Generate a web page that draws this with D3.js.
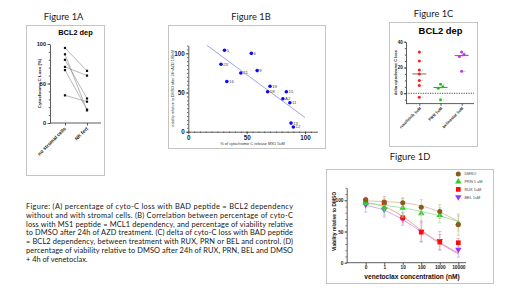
<!DOCTYPE html>
<html><head><meta charset="utf-8">
<script src="https://cdn.jsdelivr.net/npm/d3@7"></script>
<style>body{margin:0;background:#fff}svg{display:block}</style>
</head><body>
<svg id="c" width="520" height="293"></svg>
<script>
// ---------- DATA ----------
// Figure 1A
const catA = ["no stromal cells", "NK fert"];
const noStromal = [95, 87, 80, 71, 67, 35];
const nkFert = [66, 16, 31, 60, 17, 27];
const yTicksA = [0, 50, 100];
// Figure 1B
const labelsB = ["5", "6", "23", "21", "9", "16", "19", "18", "15", "A2", "11", "13", "12"];
const cytoB = [31, 54, 28, 45, 59, 33, 70, 68, 84, 81, 87, 88, 90];
const viabB = [104, 100, 86, 75, 78, 64, 58, 51, 51, 42, 37, 11, 6];
const fitRangeB = [16, 100];
const ticksB = [0, 50, 100];
// Figure 1C
const catC = ["ruxolitinib 1uM", "PRN 1uM", "belinostat 1uM"];
const ruxC = [32, 25, 18, 15, 10, 6, -3];
const prnC = [7, 5, 4, -5];
const belC = [32, 30, 28.5, 17];
const ticksC = [0, 20, 40];
// Figure 1D
const concLabels = ["0", "1", "10", "100", "1000", "10000"];
const seriesNames = ["DMSO", "PRN 1 uM", "RUX 1uM", "BEL 1uM"];
const dmso = [101, 97, 96, 89, 82, 61];
const dmsoErr = [3, 5, 8, 12, 11, 17];
const dmsoFit = [99, 98, 96, 91, 81, 66];
const prn = [96, 89, 88, 79, 76, 63];
const prnErr = [3, 13, 15, 13, 12, 12];
const prnFit = [95, 92, 88, 82, 75, 66];
const rux = [99, 96, 72, 49, 33, 32];
const ruxErr = [4, 10, 8, 15, 12, 7];
const ruxFit = [96, 90, 74, 52, 32, 16];
const bel = [93, 85, 70, 50, 35, 21];
const belErr = [12, 12, 10, 17, 15, 12];
const belFit = [92, 84, 69, 50, 31, 14];
const ticksD = [0, 50, 100];
// Caption
const caption = [
  "Figure: (A) percentage of cyto-C loss with BAD peptide = BCL2 dependency",
  "without and with stromal cells. (B) Correlation between percentage of cyto-C",
  "loss with MS1 peptide = MCL1 dependency, and percentage of viability relative",
  "to DMSO after 24h of AZD treatment. (C) delta of cyto-C loss with BAD peptide",
  "= BCL2 dependency, between treatment with RUX, PRN or BEL and control. (D)",
  "percentage of viability relative to DMSO after 24h of RUX, PRN, BEL and DMSO",
  "+ 4h of venetoclax."
];

// ---------- DRAW ----------
const svg = d3.select("#c");
svg.append("rect").attr("width", 520).attr("height", 293).attr("fill", "#fff");
const AX = "'Liberation Sans', Arial, sans-serif";
const CAL = "Lato, 'Open Sans', sans-serif";
const AXC = "#333";

function box(x0, y0, x1, y1) {
  svg.append("rect").attr("x", x0 + 0.5).attr("y", y0 + 0.5)
    .attr("width", x1 - x0).attr("height", y1 - y0)
    .attr("fill", "none").attr("stroke", "#c4c4c4").attr("stroke-width", 1);
}
function title(t, x, y) {
  svg.append("text").attr("x", x).attr("y", y).attr("text-anchor", "middle")
    .attr("font-family", CAL).attr("font-size", 9.3).attr("fill", "#1a1a1a").text(t);
}
function styleAxis(g, fs) {
  g.selectAll("path,line").attr("stroke", AXC).attr("stroke-width", 0.8);
  g.selectAll("text").attr("font-family", AX).attr("font-weight", "bold")
    .attr("font-size", fs).attr("fill", "#222");
}

// ===== Figure 1A =====
box(26, 25, 104, 175);
title("Figure 1A", 63.5, 20);
svg.append("text").attr("x", 75.5).attr("y", 35.3).attr("text-anchor", "middle")
  .attr("font-family", AX).attr("font-weight", "bold").attr("font-size", 7.4).text("BCL2 dep");
const yA = d3.scaleLinear().domain([0, 100]).range([123, 44]);
const xA = d3.scalePoint().domain(catA).range([50, 102]).padding(0.68);
{
  const ga = svg.append("g").attr("transform", "translate(50,0)")
    .call(d3.axisLeft(yA).tickValues(yTicksA).tickSize(2.5).tickSizeOuter(0).tickPadding(1.5));
  styleAxis(ga, 5.6);
  const gm = svg.append("g").attr("transform", "translate(50,0)")
    .call(d3.axisLeft(yA).tickValues(d3.range(0, 101, 10)).tickSize(1.2).tickFormat(""));
  styleAxis(gm, 5); gm.select("path").remove();
  const gx = svg.append("g").attr("transform", "translate(0,123)")
    .call(d3.axisBottom(xA).tickSize(2.5).tickSizeOuter(0));
  styleAxis(gx, 5);
  gx.select("path").attr("d", "M50,0H101");
  gx.selectAll(".tick text").attr("text-anchor", "end").attr("dy", 0)
    .attr("transform", "translate(1,6) rotate(-45)").attr("y", 0).attr("x", 0);
  svg.append("text").attr("transform", `translate(40.5,${yA(50)}) rotate(-90)`)
    .attr("text-anchor", "middle").attr("font-family", AX).attr("font-weight", "bold")
    .attr("font-size", 4.4).attr("fill", "#222").text("Cytochrome C Loss (%)");
  const pairs = noStromal.map((v, i) => [v, nkFert[i]]);
  svg.append("g").selectAll("line").data(pairs).join("line")
    .attr("x1", xA(catA[0])).attr("x2", xA(catA[1]))
    .attr("y1", d => yA(d[0])).attr("y2", d => yA(d[1]))
    .attr("stroke", "#888").attr("stroke-width", 0.6);
  const pts = [];
  pairs.forEach(d => { pts.push([catA[0], d[0]]); pts.push([catA[1], d[1]]); });
  svg.append("g").selectAll("rect").data(pts).join("rect")
    .attr("x", d => xA(d[0]) - 1.1).attr("y", d => yA(d[1]) - 1.1)
    .attr("width", 2.2).attr("height", 2.2).attr("fill", "#111");
}

// ===== Figure 1B =====
box(168, 25, 325, 148);
title("Figure 1B", 251, 20);
const xB = d3.scaleLinear().domain([0, 110]).range([188.3, 316.7]);
const yB = d3.scaleLinear().domain([0, 110]).range([131.7, 45.5]);
{
  const gy = svg.append("g").attr("transform", "translate(188.3,0)")
    .call(d3.axisLeft(yB).tickValues(ticksB).tickSize(2.5).tickSizeOuter(0).tickPadding(1));
  styleAxis(gy, 6.3);
  const gym = svg.append("g").attr("transform", "translate(188.3,0)")
    .call(d3.axisLeft(yB).tickValues(d3.range(0, 111, 5)).tickSize(1.2).tickFormat(""));
  styleAxis(gym, 5); gym.select("path").remove();
  const gx = svg.append("g").attr("transform", "translate(0,131.7)")
    .call(d3.axisBottom(xB).tickValues(ticksB).tickSize(2.5).tickSizeOuter(0).tickPadding(1));
  styleAxis(gx, 6.3);
  const gxm = svg.append("g").attr("transform", "translate(0,131.7)")
    .call(d3.axisBottom(xB).tickValues(d3.range(0, 111, 5)).tickSize(1.2).tickFormat(""));
  styleAxis(gxm, 5); gxm.select("path").remove();
  svg.append("text").attr("x", xB(55)).attr("y", 145.3).attr("text-anchor", "middle")
    .attr("font-family", AX).attr("font-size", 3.9).attr("fill", "#333")
    .text("% of cytochrome C release MS1 5uM");
  svg.append("text").attr("transform", `translate(173.5,${yB(55)}) rotate(-90)`)
    .attr("text-anchor", "middle").attr("font-family", AX).attr("font-size", 3.7).attr("fill", "#333")
    .text("viability relative to DMSO after 24h AZD 100nM");
  // regression line from data
  const mx = d3.mean(cytoB), my = d3.mean(viabB);
  const slope = d3.sum(cytoB, (x, i) => (x - mx) * (viabB[i] - my)) / d3.sum(cytoB, x => (x - mx) * (x - mx));
  const icpt = my - slope * mx;
  svg.append("line").attr("x1", xB(fitRangeB[0])).attr("x2", xB(fitRangeB[1]))
    .attr("y1", yB(icpt + slope * fitRangeB[0])).attr("y2", yB(icpt + slope * fitRangeB[1]))
    .attr("stroke", "#8a8ae6").attr("stroke-width", 0.8);
  const ptsB = labelsB.map((l, i) => ({ l, x: cytoB[i], y: viabB[i] }));
  svg.append("g").selectAll("circle").data(ptsB).join("circle")
    .attr("cx", d => xB(d.x)).attr("cy", d => yB(d.y)).attr("r", 1.8).attr("fill", "#0a0af5");
  svg.append("g").selectAll("text").data(ptsB).join("text")
    .attr("x", d => xB(d.x) + 2.2).attr("y", d => yB(d.y) + 1.5)
    .attr("font-family", AX).attr("font-size", 4.3).attr("fill", "#444").text(d => d.l);
}

// ===== Figure 1C =====
box(389, 22, 477, 146);
title("Figure 1C", 433.5, 16.5);
svg.append("text").attr("x", 440.5).attr("y", 34.2).attr("text-anchor", "middle")
  .attr("font-family", AX).attr("font-weight", "bold").attr("font-size", 9.4).text("BCL2 dep");
const yC = d3.scaleLinear().domain([-8, 40]).range([103.6, 41.7]);
const xC = d3.scalePoint().domain(catC).range([419.3, 461.7]);
{
  const gy = svg.append("g").attr("transform", "translate(406,0)")
    .call(d3.axisLeft(yC).tickValues(ticksC).tickSize(2.2).tickSizeOuter(0).tickPadding(1));
  styleAxis(gy, 4.6);
  const gym = svg.append("g").attr("transform", "translate(406,0)")
    .call(d3.axisLeft(yC).tickValues(d3.range(-5, 41, 5)).tickSize(1.2).tickFormat(""));
  styleAxis(gym, 4); gym.select("path").remove();
  const gx = svg.append("g").attr("transform", "translate(0,103.6)")
    .call(d3.axisBottom(xC).tickSize(2.2).tickSizeOuter(0));
  styleAxis(gx, 4);
  gx.select("path").attr("d", "M406,0H474");
  gx.selectAll(".tick text").attr("text-anchor", "end").attr("dy", 0)
    .attr("transform", "translate(1.5,5) rotate(-45)").attr("y", 0).attr("x", 0);
  svg.append("line").attr("x1", 406).attr("x2", 474).attr("y1", yC(0)).attr("y2", yC(0))
    .attr("stroke", "#222").attr("stroke-width", 0.8).attr("stroke-dasharray", "1.2,1.2");
  svg.append("text").attr("transform", `translate(396.5,${yC(16)}) rotate(-90)`)
    .attr("text-anchor", "middle").attr("font-family", AX).attr("font-weight", "bold")
    .attr("font-size", 3.9).attr("fill", "#222").text("delta cytochrome C loss");
  const groups = [[ruxC, "#ff1a1a"], [prnC, "#1fc41f"], [belC, "#bb33ee"]];
  groups.forEach(([vals, col], gi) => {
    const cx = xC(catC[gi]);
    const sorted = vals.slice().sort((a, b) => b - a);
    let prev = null, side = 0;
    const pts = sorted.map(v => {
      let dx = 0;
      if (prev !== null && Math.abs(prev - v) < 2.5) { side = side ? -side : 1; dx = side * 2.3; } else side = 0;
      prev = v;
      return { v, x: cx + dx };
    });
    const med = d3.median(vals);
    svg.append("line").attr("x1", cx - 7).attr("x2", cx + 7).attr("y1", yC(med)).attr("y2", yC(med))
      .attr("stroke", "#333").attr("stroke-width", 0.7);
    svg.append("g").selectAll("line").data(pts).join("line")
      .attr("x1", d => d.x + 2.3).attr("x2", d => d.x + 4).attr("y1", d => yC(d.v)).attr("y2", d => yC(d.v))
      .attr("stroke", "#bbb").attr("stroke-width", 0.6);
    svg.append("g").selectAll("circle").data(pts).join("circle")
      .attr("cx", d => d.x).attr("cy", d => yC(d.v)).attr("r", 1.5).attr("fill", col);
  });
}

// ===== Figure 1D =====
box(326, 169, 493, 283);
title("Figure 1D", 410, 160);
const yD = d3.scaleLinear().domain([0, 120]).range([262.7, 187.8]);
const xD = d3.scalePoint().domain(concLabels).range([365.7, 458.3]);
{
  const gy = svg.append("g").attr("transform", "translate(346.7,0)")
    .call(d3.axisLeft(yD).tickValues(ticksD).tickSize(2.2).tickSizeOuter(0).tickPadding(1));
  styleAxis(gy, 4.8);
  const gym = svg.append("g").attr("transform", "translate(346.7,0)")
    .call(d3.axisLeft(yD).tickValues(d3.range(0, 121, 10)).tickSize(1.2).tickFormat(""));
  styleAxis(gym, 4); gym.select("path").remove();
  const gx = svg.append("g").attr("transform", "translate(0,262.7)")
    .call(d3.axisBottom(xD).tickSize(2.2).tickSizeOuter(0).tickPadding(1));
  styleAxis(gx, 4.8);
  gx.select("path").attr("d", "M346.7,0H466");
  svg.append("text").attr("x", 412).attr("y", 278.8).attr("text-anchor", "middle")
    .attr("font-family", AX).attr("font-weight", "bold").attr("font-size", 6.6).attr("fill", "#111")
    .text("venetoclax concentration (nM)");
  svg.append("text").attr("transform", `translate(335.5,${yD(66)}) rotate(-90)`)
    .attr("text-anchor", "middle").attr("font-family", AX).attr("font-weight", "bold")
    .attr("font-size", 4.9).attr("fill", "#111").text("Viability relative to DMSO");

  const series = [
    { name: seriesNames[3], v: bel, e: belErr, f: belFit, c: "#9933ff", lc: "#c9a0f5", sym: "down" },
    { name: seriesNames[2], v: rux, e: ruxErr, f: ruxFit, c: "#ff0a0a", lc: "#f29a90", sym: d3.symbolSquare },
    { name: seriesNames[1], v: prn, e: prnErr, f: prnFit, c: "#2ecc2e", lc: "#9ee39e", sym: d3.symbolTriangle },
    { name: seriesNames[0], v: dmso, e: dmsoErr, f: dmsoFit, c: "#8c5a1e", lc: "#d9bd96", sym: d3.symbolCircle }
  ];
  const line = d3.line().x((d, i) => xD(concLabels[i])).y(d => yD(d)).curve(d3.curveMonotoneX);
  function drawSym(g, s, x, y) {
    if (s.sym === "down") {
      g.append("path").attr("d", d3.symbol(d3.symbolTriangle).size(18)())
        .attr("transform", `translate(${x},${y}) rotate(180)`).attr("fill", s.c);
    } else {
      const size = s.sym === d3.symbolSquare ? 22 : (s.sym === d3.symbolCircle ? 20 : 18);
      g.append("path").attr("d", d3.symbol(s.sym).size(size)())
        .attr("transform", `translate(${x},${y})`).attr("fill", s.c);
    }
  }
  series.forEach(s => {
    svg.append("path").attr("d", line(s.f)).attr("fill", "none").attr("stroke", s.lc).attr("stroke-width", 0.9);
  });
  series.forEach(s => {
    const g = svg.append("g");
    s.v.forEach((v, i) => {
      const x = xD(concLabels[i]);
      const y1 = yD(v - s.e[i]), y2 = yD(v + s.e[i]);
      g.append("line").attr("x1", x).attr("x2", x).attr("y1", y1).attr("y2", y2).attr("stroke", s.lc).attr("stroke-width", 0.7);
      g.append("line").attr("x1", x - 1.6).attr("x2", x + 1.6).attr("y1", y1).attr("y2", y1).attr("stroke", s.lc).attr("stroke-width", 0.7);
      g.append("line").attr("x1", x - 1.6).attr("x2", x + 1.6).attr("y1", y2).attr("y2", y2).attr("stroke", s.lc).attr("stroke-width", 0.7);
    });
    s.v.forEach((v, i) => drawSym(g, s, xD(concLabels[i]), yD(v)));
  });
  const leg = svg.append("g");
  series.slice().reverse().forEach((s, i) => {
    const ly = 174 + i * 7.7;
    drawSym(leg, s, 458.3, ly);
    leg.append("text").attr("x", 464.5).attr("y", ly + 1.4).attr("font-family", AX)
      .attr("font-size", 3.9).attr("fill", "#444").text(s.name);
  });
}

// ===== Caption =====
svg.append("g").selectAll("text").data(caption).join("text")
  .attr("x", 26).attr("y", (d, i) => 209.3 + i * 8.7)
  .attr("font-family", CAL).attr("font-size", 7.4).attr("fill", "#151515")
  .each(function (d, i) {
    if (i < caption.length - 1) d3.select(this).attr("textLength", 267).attr("lengthAdjust", "spacing");
  })
  .text(d => d);
</script>
</body></html>
